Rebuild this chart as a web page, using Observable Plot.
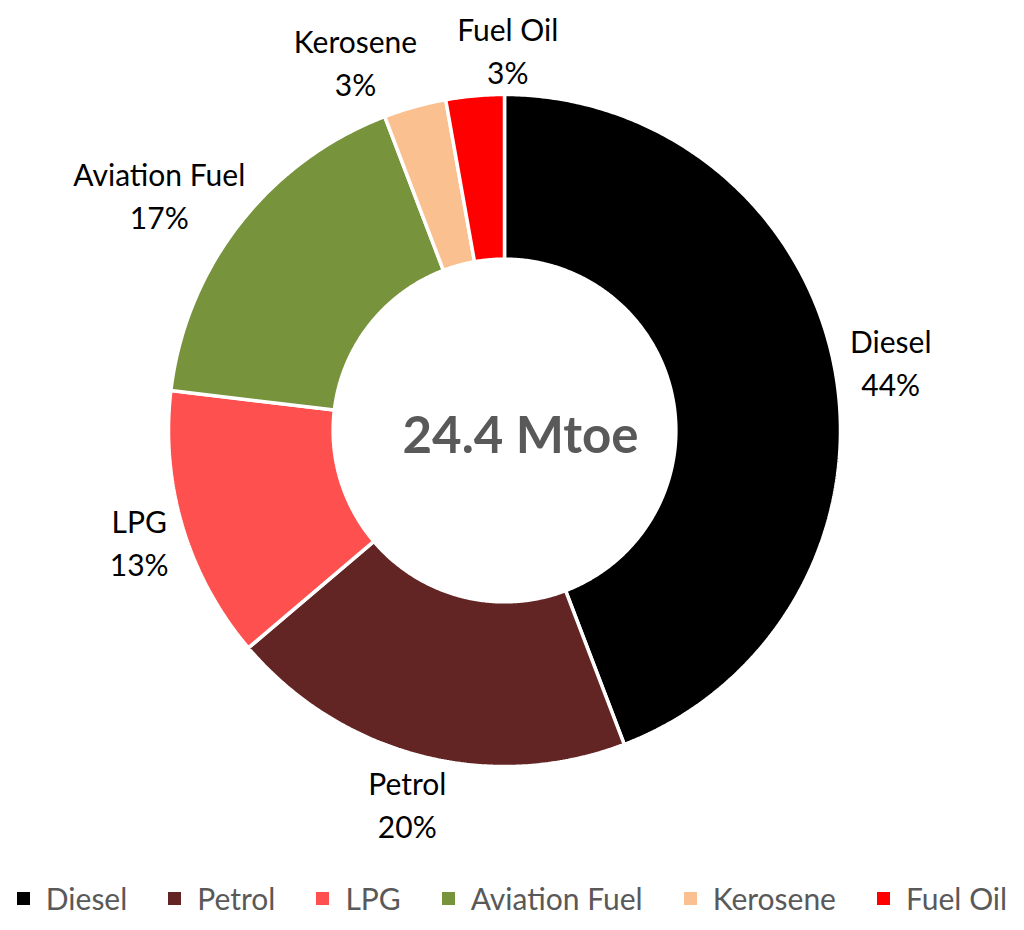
<!DOCTYPE html>
<html><head><meta charset="utf-8">
<script src="https://cdn.jsdelivr.net/npm/d3@7"></script>
<script src="https://cdn.jsdelivr.net/npm/@observablehq/plot@0.6"></script>
<style>
body{margin:0;background:#fff;font-family:Lato,"Open Sans",sans-serif;}
#chart{width:1024px;}
#legend{margin-top:20px;width:1024px;}
div .lg-swatches{justify-content:center;margin:0;flex-wrap:nowrap;}
div .lg-swatch{margin-right:41px;}
div .lg-swatch:last-child{margin-right:0;}
div .lg-swatch > svg{margin-right:16px;}
</style></head><body><div id="chart"></div><div id="legend"></div>
<script>
const categories = ["Diesel","Petrol","LPG","Aviation Fuel","Kerosene","Fuel Oil"];
const shares = [44.2, 19.6, 13.1, 17.3, 3.0, 2.8];
const colors = ["#000000","#632523","#FF5050","#77933C","#FAC090","#FF0000"];
const totalLabel = "24.4 Mtoe";

const W = 1024, H = 860, cx = 504, cy = 430, R = 336, inner = 0.51;
const fs = 30;
const ctx = document.createElement("canvas").getContext("2d");
ctx.font = fs + "px Lato";

const total = d3.sum(shares);
let acc = 0;
const slices = categories.map((c, i) => {
  const a0 = acc / total * 2 * Math.PI; acc += shares[i];
  const a1 = acc / total * 2 * Math.PI;
  return {category: c, a0, a1, pct: Math.round(shares[i] / total * 100) + "%"};
});

const ring = [];
for (const s of slices) {
  const n = Math.max(4, Math.ceil((s.a1 - s.a0) / (Math.PI / 360)));
  const pts = [];
  for (let k = 0; k <= n; k++) { const a = s.a0 + (s.a1 - s.a0) * k / n; pts.push([Math.sin(a), Math.cos(a)]); }
  for (let k = n; k >= 0; k--) { const a = s.a0 + (s.a1 - s.a0) * k / n; pts.push([inner * Math.sin(a), inner * Math.cos(a)]); }
  pts.push(pts[0]);
  for (const [x, y] of pts) ring.push({category: s.category, x, y});
}

// label placement outside the ring, along the mid angle
const pad = 16 / R, halfH = 32 / R, blockH = 44 / R;
const labels = slices.map(s => {
  const m = (s.a0 + s.a1) / 2, ux = Math.sin(m), uy = Math.cos(m);
  const hw = Math.max(ctx.measureText(s.category).width, ctx.measureText(s.pct).width) / 2 / R;
  return {text: s.category + "\n" + s.pct, x: ux * (1 + pad + hw), y: uy * (1 + pad + halfH), hw};
});
// simple horizontal collision resolution
for (let iter = 0; iter < 50; iter++) {
  for (let i = 0; i < labels.length; i++) for (let j = i + 1; j < labels.length; j++) {
    const a = labels[i], b = labels[j];
    const ox = a.hw + b.hw + 40 / R - Math.abs(a.x - b.x);
    const oy = 2 * blockH - Math.abs(a.y - b.y);
    if (ox > 0 && oy > 0) {
      const sgn = a.x < b.x ? -1 : 1;
      a.x += sgn * ox / 2; b.x -= sgn * ox / 2;
    }
  }
}
// keep labels inside the frame
const yTop = cy / R - blockH - 4 / R;
for (const l of labels) l.y = Math.min(l.y, yTop);

const chart = Plot.plot({
  width: W, height: H, margin: 0,
  x: {domain: [-cx / R, (W - cx) / R], range: [0, W], axis: null},
  y: {domain: [-(H - cy) / R, cy / R], range: [H, 0], axis: null},
  color: {domain: categories, range: colors},
  style: {fontFamily: "Lato, 'Open Sans', sans-serif", background: "#fff"},
  marks: [
    Plot.line(ring, {x: "x", y: "y", z: "category", fill: "category", stroke: "white", strokeWidth: 3.5, strokeLinejoin: "miter"}),
    Plot.text(labels, {x: "x", y: "y", text: "text", fontSize: fs, lineHeight: 1.43, fill: "#000"}),
    Plot.text([{x: 0, y: 0, t: totalLabel}], {x: "x", y: "y", text: "t", fontSize: 51, fontWeight: "bold", fill: "#595959", dx: 16, dy: 6})
  ]
});
document.getElementById("chart").append(chart);

const legend = Plot.legend({
  color: {type: "ordinal", domain: categories, range: colors},
  legend: "swatches", className: "lg", swatchSize: 13,
  style: {fontSize: fs + "px", fontFamily: "Lato, 'Open Sans', sans-serif", color: "#595959"}
});
document.getElementById("legend").append(legend);
</script></body></html>
